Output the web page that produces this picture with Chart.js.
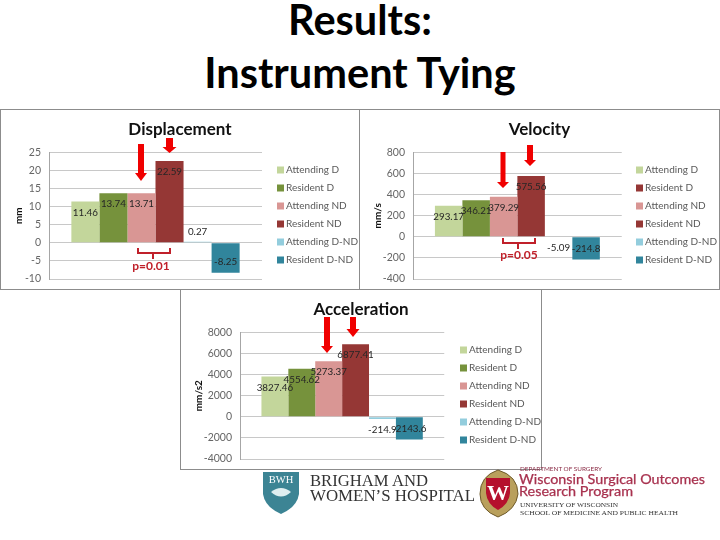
<!DOCTYPE html>
<html><head><meta charset="utf-8">
<script src="https://cdn.jsdelivr.net/npm/chart.js@4"></script>
<style>
html,body{margin:0;padding:0;background:#fff;width:720px;height:540px;overflow:hidden;font-family:Lato,sans-serif}
.panel{position:absolute;background:#fff;border:1px solid #8c8c8c;box-sizing:border-box}
.panel canvas{position:absolute;left:0;top:0;filter:blur(.35px)}
#heading{position:absolute;left:0;width:720px;text-align:center;color:#000;font:700 41.5px/53px Lato,sans-serif;top:-7px}
svg{position:absolute;left:0;top:0}
</style></head><body>
<div id="heading">Results:<br>Instrument Tying</div>
<div class="panel" style="left:0;top:109px;width:360px;height:181px"><canvas id="c1" width="358" height="179"></canvas></div>
<div class="panel" style="left:359px;top:109px;width:361px;height:181px"><canvas id="c2" width="359" height="179"></canvas></div>
<div class="panel" style="left:180px;top:289px;width:362px;height:181px"><canvas id="c3" width="360" height="179"></canvas></div>
<svg id="overlay" width="720" height="540" xmlns="http://www.w3.org/2000/svg"></svg>
<script>
const categories = [''];
const seriesNames = ['Attending D','Resident D','Attending ND','Resident ND','Attending D-ND','Resident D-ND'];
const barColors = ['#c3d69b','#76923c','#d99694','#953735','#93cddd','#31859c'];
const velocityLegendColors = ['#c3d69b','#953735','#d99694','#953735','#93cddd','#31859c'];

const displacementValues = [11.46,13.74,13.71,22.59,0.27,-8.25];
const displacementLabels = ['11.46','13.74','13.71','22.59','0.27','-8.25'];
const displacementTicks = [-10,-5,0,5,10,15,20,25];

const velocityValues = [293.17,346.21,379.29,575.56,-5.09,-214.8];
const velocityLabels = ['293.17','346.21','379.29','575.56','-5.09','-214.8'];
const velocityTicks = [-400,-200,0,200,400,600,800];

const accelerationValues = [3827.46,4554.62,5273.37,6877.41,-214.9,-2143.6];
const accelerationLabels = ['3827.46','4554.62','5273.37','6877.41','-214.9','-2143.6'];
const accelerationTicks = [-4000,-2000,0,2000,4000,6000,8000];

const fontFam = 'Lato, sans-serif';

const barLabels = {
  id:'barLabels',
  afterDatasetsDraw(chart,args,opts){
    const c = chart.ctx; c.save();
    c.font = '9.8px '+fontFam; c.fillStyle='#262626'; c.textAlign='center'; c.textBaseline='middle';
    chart.data.datasets.forEach((ds,i)=>{
      const el = chart.getDatasetMeta(i).data[0];
      const h = Math.abs(el.base-el.y), neg = ds.data[0]<0;
      const off = h<14 ? -10.5 : 11;
      c.fillText(opts.text[i], el.x, el.y + (neg?-off:off));
    });
    c.restore();
  }
};
const placeBlocks = {
  id:'placeBlocks',
  afterLayout(chart,args,opts){
    const l = chart.legend, dx = opts.left-l.left, dy = opts.top-l.top;
    l.left+=dx; l.right+=dx; l.top+=dy; l.bottom+=dy;
    const t = chart.titleBlock; t.left=0; t.right=chart.width;
  }
};

function makeChart(id,cfg){
  const min = cfg.ticks[0], max = cfg.ticks[cfg.ticks.length-1];
  return new Chart(document.getElementById(id),{
    type:'bar',
    data:{labels:categories,datasets:seriesNames.map((n,i)=>({
      label:n,data:[cfg.values[i]],backgroundColor:barColors[i],borderWidth:0,
      categoryPercentage:0.79,barPercentage:1
    }))},
    plugins:[barLabels,placeBlocks],
    options:{
      responsive:false,animation:false,devicePixelRatio:1,
      layout:{padding:cfg.padding},
      plugins:{
        tooltip:{enabled:false},
        barLabels:{text:cfg.labels},
        placeBlocks:{left:cfg.legendLeft,top:cfg.legendTop},
        title:{display:true,text:cfg.title,color:'#111',font:{family:fontFam,size:17,weight:'bold',lineHeight:1.2},
          padding:{top:cfg.titleTop,bottom:cfg.titleBottom}},
        legend:{position:'right',align:'start',
          labels:{color:'#595959',boxWidth:1,boxHeight:1,padding:8,font:{family:fontFam,size:10,lineHeight:1.2},
            generateLabels(chart){
              return seriesNames.map((n,i)=>({text:n,fillStyle:cfg.legendColors[i],strokeStyle:cfg.legendColors[i],lineWidth:6,datasetIndex:i,hidden:false,fontColor:'#595959'}));
            }}}
      },
      scales:{
        x:{display:false,offset:true},
        y:{min,max,
          afterBuildTicks(s){s.ticks=cfg.ticks.map(v=>({value:v}));},
          afterFit(s){s.width=cfg.axisWidth;s.paddingBottom=6;s.paddingTop=6;},
          ticks:{color:'#666',padding:8,font:{family:fontFam,size:10.5},callback:v=>String(v),autoSkip:false},
          title:{display:true,text:cfg.unit,color:'#111',font:{family:fontFam,size:10,weight:'bold'},padding:{top:cfg.unitOffset,bottom:0}},
          grid:{color:'#c8c8c8',drawTicks:false,lineWidth:1},
          border:{display:true,color:'#a6a6a6'}
        }
      }
    }
  });
}

makeChart('c1',{title:'Displacement',unit:'mm',values:displacementValues,labels:displacementLabels,ticks:displacementTicks,legendColors:barColors,
  padding:{left:0,right:10,top:0,bottom:10},titleTop:9,titleBottom:13,axisWidth:48,unitOffset:12,legendLeft:271,legendTop:47});
makeChart('c2',{title:'Velocity',unit:'mm/s',values:velocityValues,labels:velocityLabels,ticks:velocityTicks,legendColors:velocityLegendColors,
  padding:{left:0,right:10,top:0,bottom:10},titleTop:9,titleBottom:13,axisWidth:53,unitOffset:12,legendLeft:271,legendTop:47});
makeChart('c3',{title:'Acceleration',unit:'mm/s2',values:accelerationValues,labels:accelerationLabels,ticks:accelerationTicks,legendColors:barColors,
  padding:{left:0,right:9,top:0,bottom:10},titleTop:9,titleBottom:13,axisWidth:59,unitOffset:12,legendLeft:274,legendTop:47});

// annotations and logos
const red='#f00000', brace='#c0202a';
const arrows=[ // x centre, top, head start, tip, half shaft, half head
 [141,144,173,181,3,6],[169.5,138,147,153,3.5,7],
 [503,152,182,188,2.5,6],[530,145,160,166,3,6],
 [327,317,346,353,3,6],[353,317,329,337,3,6.5]];
const braces=[[138,170,248,253,153,259,151,267,'p=0.01'],[503,535,238,243,518,249,519,256,'p=0.05']];
let s='';
arrows.forEach(([x,t,h,p,a,b])=>{s+=`<polygon fill="${red}" points="${x-a},${t} ${x+a},${t} ${x+a},${h} ${x+b},${h} ${x},${p} ${x-b},${h} ${x-a},${h}"/>`;});
braces.forEach(([x0,x1,y0,y1,sx,sy,tx,ty,t])=>{
 s+=`<path fill="none" stroke="${brace}" stroke-width="2" d="M${x0},${y0} V${y1} H${x1} V${y0} M${sx},${y1} V${sy}"/>`;
 s+=`<text x="${tx}" y="${ty}" text-anchor="middle" dominant-baseline="middle" font-family="Lato" font-weight="700" font-size="12" fill="${brace}">${t}</text>`;
});
// BWH logo
s+=`<path d="M263,472 H299 V494 Q297,507 281,514 Q265,507 263,494 Z" fill="#3c8494"/>`;
s+=`<text x="281" y="483" text-anchor="middle" font-family="Liberation Serif" font-size="10.5" fill="#fff">BWH</text>`;
s+=`<path d="M271,492 Q281,484 291,492 Q281,501 271,492 Z" fill="#dfeef0"/>`;
s+=`<text x="310" y="486" font-family="Liberation Serif" font-size="17" fill="#333" textLength="118" lengthAdjust="spacingAndGlyphs">BRIGHAM AND</text>`;
s+=`<text x="310" y="501" font-family="Liberation Serif" font-size="17" fill="#333" textLength="165" lengthAdjust="spacingAndGlyphs">WOMEN’S HOSPITAL</text>`;
// Wisconsin logo
s+=`<path d="M498,470 Q518,476 518,494 Q516,510 498,517 Q480,510 480,494 Q480,476 498,470 Z" fill="#b9a05c" stroke="#6e5a2a" stroke-width="1"/>`;
s+=`<path d="M486,478 H510 V493 Q509,504 498,510 Q487,504 486,493 Z" fill="#b5102d"/>`;
s+=`<text x="498" y="500" text-anchor="middle" font-family="Liberation Serif" font-weight="700" font-size="22" fill="#fff">W</text>`;
s+=`<text x="520" y="471" font-family="Lato" font-size="6" fill="#8a2b45" textLength="82" lengthAdjust="spacingAndGlyphs">DEPARTMENT OF SURGERY</text>`;
s+=`<text x="519" y="484" font-family="Lato" font-size="12.5" fill="#a8324f" stroke="#a8324f" stroke-width=".25" textLength="186" lengthAdjust="spacingAndGlyphs">Wisconsin Surgical Outcomes</text>`;
s+=`<text x="519" y="496" font-family="Lato" font-size="12.5" fill="#a8324f" stroke="#a8324f" stroke-width=".25" textLength="114" lengthAdjust="spacingAndGlyphs">Research Program</text>`;
s+=`<text x="520" y="507" font-family="Liberation Serif" font-size="6" fill="#333" textLength="98" lengthAdjust="spacingAndGlyphs">UNIVERSITY OF WISCONSIN</text>`;
s+=`<text x="520" y="515" font-family="Liberation Serif" font-size="6" fill="#333" textLength="158" lengthAdjust="spacingAndGlyphs">SCHOOL OF MEDICINE AND PUBLIC HEALTH</text>`;
document.getElementById('overlay').innerHTML=s;
</script>
</body></html>
